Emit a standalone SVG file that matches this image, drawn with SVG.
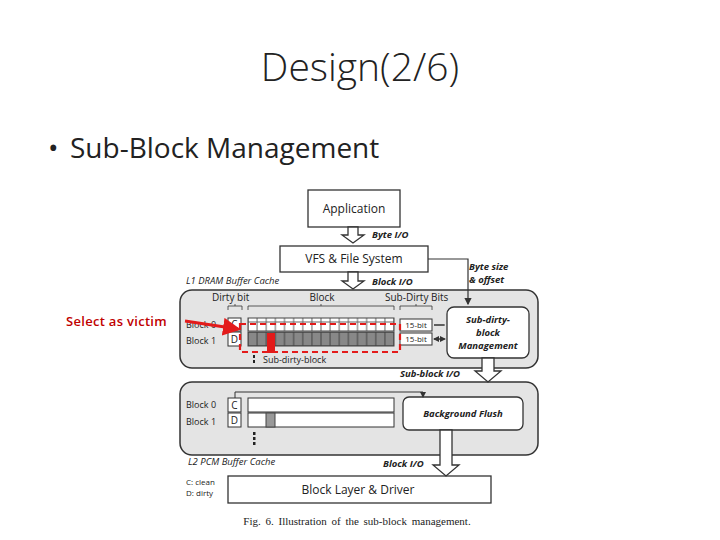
<svg xmlns="http://www.w3.org/2000/svg" width="720" height="540" viewBox="0 0 720 540">
<style>
text{font-family:"Open Sans","Liberation Sans",sans-serif;fill:#222}
.lbl{font-size:10px}
.it{font-size:9.5px;font-style:italic;font-weight:bold}
.box{fill:#fff;stroke:#333;stroke-width:1.3}
.pane{fill:#e4e4e4;stroke:#333;stroke-width:1.5}
.harrow{fill:#fff;stroke:#333;stroke-width:1.3}
.ln{stroke:#333;stroke-width:1.2;fill:none}
</style>
<defs>
<marker id="ah" markerWidth="6" markerHeight="6" refX="5" refY="3" orient="auto"><path d="M0,0L6,3L0,6z" fill="#333"/></marker>
<marker id="ra" markerWidth="6" markerHeight="6" refX="5" refY="3" orient="auto"><path d="M0,0L6,3L0,6z" fill="#e31b1b"/></marker>
<pattern id="cells0" width="9.125" height="14" patternUnits="userSpaceOnUse" x="248"><rect width="9.125" height="14" fill="#fff" stroke="#666" stroke-width="1"/></pattern>
<pattern id="cells1" width="9.125" height="14" patternUnits="userSpaceOnUse" x="248" y="332"><rect width="9.125" height="14" fill="#888" stroke="#444" stroke-width="1"/></pattern>
</defs>
<rect width="720" height="540" fill="#fff"/>
<text x="360" y="81" text-anchor="middle" style="font-size:39px;font-weight:300">Design(2/6)</text>
<text x="48" y="158" style="font-size:28px">•</text>
<text x="70" y="158" style="font-size:28px">Sub-Block Management</text>

<g id="panes">
<rect class="pane" x="180" y="290" width="358" height="78" rx="12"/>
<rect class="pane" x="180" y="382" width="358" height="73" rx="12"/>
</g>
<g id="application"><rect class="box" x="308" y="190" width="92" height="37"/><text x="354" y="213" text-anchor="middle" style="font-size:12px">Application</text></g>
<g id="vfs"><rect class="box" x="280" y="246" width="148" height="26"/><text x="354" y="263" text-anchor="middle" style="font-size:12px">VFS &amp; File System</text></g>
<g id="l1labels">
<text x="186" y="284" class="it" style="font-weight:normal">L1 DRAM Buffer Cache</text>
<text x="212" y="301" class="lbl">Dirty bit</text>
<text x="322" y="301" class="lbl" text-anchor="middle">Block</text>
<text x="385" y="301" class="lbl">Sub-Dirty Bits</text>
<path class="ln" d="M228,310v-4h14v4M235,306v-2M248,310v-4h146v4M321,306v-2M400,310v-4h32v4M416,306v-2" style="stroke-width:0.8"/>
<text x="186" y="328" class="lbl" style="font-size:9px">Block 0</text>
<text x="186" y="344" class="lbl" style="font-size:9px">Block 1</text>
<rect class="box" x="228" y="318" width="13" height="13" style="stroke-width:1"/><text x="234.5" y="328" class="lbl" text-anchor="middle">C</text>
<rect class="box" x="228" y="332" width="13" height="14" style="stroke-width:1"/><text x="234.5" y="343" class="lbl" text-anchor="middle">D</text>
<rect x="248" y="318" width="146" height="13" fill="url(#cells0)" stroke="#444"/>
<rect x="248" y="332" width="146" height="14" fill="url(#cells1)" stroke="#444"/>
<rect class="box" x="400" y="319" width="32" height="12" style="stroke-width:1"/><text x="416" y="328" text-anchor="middle" style="font-size:8px">15-bit</text>
<rect class="box" x="400" y="333" width="32" height="12" style="stroke-width:1"/><text x="416" y="342" text-anchor="middle" style="font-size:8px">15-bit</text>
<rect x="253" y="355" width="2" height="3" fill="#222"/><rect x="253" y="360" width="2" height="3" fill="#222"/>
<text x="263" y="363" class="lbl" style="font-size:9px">Sub-dirty-block</text>
</g>
<g id="subdirty-mgmt"><rect class="box" x="447" y="307" width="82" height="51" rx="7"/>
<text x="488" y="323" class="it" text-anchor="middle">Sub-dirty-</text><text x="488" y="336" class="it" text-anchor="middle">block</text><text x="488" y="349" class="it" text-anchor="middle">Management</text></g>
<g id="l2">
<text x="186" y="408" class="lbl" style="font-size:9px">Block 0</text>
<text x="186" y="425" class="lbl" style="font-size:9px">Block 1</text>
<rect class="box" x="228" y="398" width="13" height="14" style="stroke-width:1"/><text x="234.5" y="409" class="lbl" text-anchor="middle">C</text>
<rect class="box" x="228" y="413" width="13" height="14" style="stroke-width:1"/><text x="234.5" y="424" class="lbl" text-anchor="middle">D</text>
<rect class="box" x="248" y="398" width="146" height="14" style="stroke-width:1"/>
<rect class="box" x="248" y="413" width="146" height="14" style="stroke-width:1"/>
<rect x="266" y="413" width="9" height="14" fill="#999" stroke="#444"/>
<rect x="253" y="432" width="2.5" height="3" fill="#222"/><rect x="253" y="437" width="2.5" height="3" fill="#222"/><rect x="253" y="442" width="2.5" height="3" fill="#222"/>
<text x="188" y="465" class="it" style="font-weight:normal">L2 PCM Buffer Cache</text>
<text x="186" y="485" style="font-size:8px">C: clean</text><text x="186" y="496" style="font-size:8px">D: dirty</text>
</g>
<g id="background-flush"><rect class="box" x="403" y="397" width="120" height="33" rx="6"/><text x="463" y="417" class="it" text-anchor="middle">Background Flush</text></g>
<g id="block-layer"><rect class="box" x="228" y="476" width="263" height="27"/><text x="358" y="494" text-anchor="middle" style="font-size:12px">Block Layer &amp; Driver</text></g>

<g id="connectors">
<path class="harrow" d="M348,227h10v8h6l-11,8l-11,-8h6z"/>
<text x="372" y="238" class="it">Byte I/O</text>
<path class="harrow" d="M348,272h10v9h6l-11,8l-11,-8h6z"/>
<text x="372" y="285" class="it">Block I/O</text>
<path class="ln" d="M428,259H468V304" marker-end="url(#ah)"/>
<text x="469" y="270" class="it">Byte size</text><text x="469" y="283" class="it">&amp; offset</text>
<path class="ln" d="M434,325H445M434,339H445" marker-end="url(#ah)" style="stroke-width:1"/>
<path class="ln" d="M444,325H434M444,339H434" marker-end="url(#ah)" style="stroke-width:1"/>
<path class="harrow" d="M482,358h12v13h7l-13,11l-13,-11h7z"/>
<text x="400" y="377" class="it">Sub-block I/O</text>
<path class="ln" d="M235,398V392H423V397" marker-end="url(#ah)" style="stroke-width:1"/>
<path class="harrow" d="M440,430h12v35h7l-13,11l-13,-11h7z"/>
<text x="383" y="467" class="it">Block I/O</text>
</g>
<g id="highlight">
<rect x="240" y="324" width="160" height="28" fill="none" stroke="#e31b1b" stroke-width="2.2" stroke-dasharray="6,4"/>
<rect x="267" y="333" width="8" height="20" fill="#e31b1b"/>
<line x1="185" y1="321" x2="238" y2="329" stroke="#e31b1b" stroke-width="3" marker-end="url(#ra)"/>
<text x="66" y="326" style="font-size:13px;fill:#c00000;font-weight:600;letter-spacing:0.3px">Select as victim</text>
</g>
<text x="357" y="525" text-anchor="middle" style="font-family:'Liberation Serif',serif;font-size:11px;word-spacing:2px">Fig. 6.   Illustration of the sub-block management.</text>
</svg>
